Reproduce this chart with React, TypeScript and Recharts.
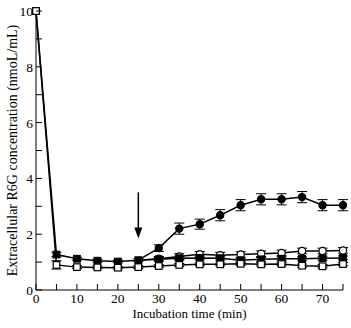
import React from "react";
import {
  LineChart,
  Line,
  XAxis,
  YAxis,
  ErrorBar,
  ReferenceLine,
  Label,
} from "recharts";

const times = [0, 5, 10, 15, 20, 25, 30, 35, 40, 45, 50, 55, 60, 65, 70, 75];

// open squares (control)
const openSq = [10, 0.9, 0.82, 0.81, 0.8, 0.82, 0.86, 0.9, 0.92, 0.92, 0.94, 0.92, 0.93, 0.87, 0.85, 0.93];
const openSqErr = [0, 0.15, 0.05, 0.05, 0.05, 0.05, 0.05, 0.05, 0.05, 0.05, 0.06, 0.06, 0.06, 0.06, 0.06, 0.06];

// filled squares
const fillSq = [10, 1.27, 1.12, 1.05, 1.02, 1.07, 1.1, 1.14, 1.15, 1.14, 1.07, 1.1, 1.12, 1.12, 1.14, 1.15];
const fillSqErr = [0, 0.08, 0.05, 0.05, 0.05, 0.05, 0.06, 0.07, 0.07, 0.07, 0.07, 0.07, 0.07, 0.07, 0.07, 0.07];

// filled circles (added at the arrow)
const fillCi = [null, null, null, null, null, 1.07, 1.5, 2.2, 2.36, 2.68, 3.04, 3.25, 3.25, 3.33, 3.04, 3.04];
const fillCiErr = [0, 0, 0, 0, 0, 0, 0.12, 0.2, 0.18, 0.2, 0.2, 0.2, 0.2, 0.2, 0.2, 0.2];

// open circles (added at the arrow)
const openCi = [null, null, null, null, null, 1.07, 1.12, 1.2, 1.28, 1.25, 1.27, 1.3, 1.33, 1.4, 1.4, 1.42];
const openCiErr = [0, 0, 0, 0, 0, 0, 0.08, 0.1, 0.1, 0.1, 0.1, 0.1, 0.1, 0.1, 0.1, 0.1];

const ARROW_T = 25;
const xTicks = [0, 5, 10, 15, 20, 25, 30, 35, 40, 45, 50, 55, 60, 65, 70, 75];
const yTicks = [0, 1, 2, 3, 4, 5, 6, 7, 8, 9, 10];

const data = times.map((t, i) => ({
  t,
  openSq: openSq[i],
  openSqErr: openSqErr[i],
  fillSq: fillSq[i],
  fillSqErr: fillSqErr[i],
  fillCi: fillCi[i],
  fillCiErr: fillCiErr[i],
  openCi: openCi[i],
  openCiErr: openCiErr[i],
}));

const FONT = "'Liberation Serif', 'Times New Roman', serif";

const XTick = (props: any) => {
  const { x, y, payload } = props;
  const major = payload.value % 10 === 0;
  return (
    <g>
      <line x1={x} y1={y} x2={x} y2={y - 6} stroke="#000" strokeWidth={1} />
      {major && (
        <text x={x} y={y + 13} textAnchor="middle" fontSize={13.5} fontFamily={FONT} fill="#000">
          {payload.value}
        </text>
      )}
    </g>
  );
};

const YTick = (props: any) => {
  const { x, y, payload } = props;
  const major = payload.value % 2 === 0;
  return (
    <g>
      <line x1={x} y1={y} x2={x + 6} y2={y} stroke="#000" strokeWidth={1} />
      {major && (
        <text x={x - 3} y={y + 5} textAnchor="end" fontSize={13.5} fontFamily={FONT} fill="#000">
          {payload.value}
        </text>
      )}
    </g>
  );
};

const squareDot = (filled: boolean) => (p: any) => {
  const { cx, cy, index } = p;
  if (cx == null || cy == null) return <g key={index} />;
  return (
    <rect
      key={index}
      x={cx - 3.3}
      y={cy - 3.3}
      width={6.6}
      height={6.6}
      fill={filled ? "#000" : "#fff"}
      stroke="#000"
      strokeWidth={1.2}
    />
  );
};

// circles start at the arrow point, where the filled square is shown
const circleDot = (filled: boolean) => (p: any) => {
  const { cx, cy, index, payload } = p;
  if (cx == null || cy == null || payload.t === ARROW_T) return <g key={index} />;
  return (
    <circle key={index} cx={cx} cy={cy} r={3.6} fill={filled ? "#000" : "#fff"} stroke="#000" strokeWidth={1.2} />
  );
};

const Arrow = (p: any) => {
  const { x1, y1, x2, y2 } = p;
  return (
    <g>
      <line x1={x1} y1={y1} x2={x2} y2={y2 - 8} stroke="#000" strokeWidth={1.5} />
      <polygon points={`${x2 - 4},${y2 - 11} ${x2 + 4},${y2 - 11} ${x2},${y2}`} fill="#000" />
    </g>
  );
};

export default function App() {
  return (
    <div style={{ position: "absolute", left: 0, top: 0, background: "#fff" }}>
      <LineChart
        width={351}
        height={328}
        data={data}
        margin={{ top: 11, right: 8, left: 10, bottom: 8 }}
      >
        <XAxis
          dataKey="t"
          type="number"
          domain={[0, 75]}
          ticks={xTicks}
          interval={0}
          tickSize={0}
          tickMargin={0}
          tickLine={false}
          tick={<XTick />}
          height={30}
          axisLine={{ stroke: "#000", strokeWidth: 1 }}
        >
          <Label
            value="Incubation time (min)"
            position="insideBottom"
            offset={2}
            style={{ fontFamily: FONT, fontSize: 13, fill: "#000" }}
          />
        </XAxis>
        <YAxis
          type="number"
          domain={[0, 10]}
          ticks={yTicks}
          interval={0}
          tickSize={0}
          tickMargin={0}
          tickLine={false}
          tick={<YTick />}
          width={26}
          axisLine={{ stroke: "#000", strokeWidth: 1 }}
        >
          <Label
            value="Extracellular R6G concentration (nmoL/mL)"
            angle={-90}
            position="insideLeft"
            offset={2}
            style={{ fontFamily: FONT, fontSize: 14, fill: "#000", textAnchor: "middle" }}
          />
        </YAxis>
        <ReferenceLine
          segment={[
            { x: ARROW_T, y: 3.5 },
            { x: ARROW_T, y: 1.85 },
          ]}
          shape={<Arrow />}
        />
        <Line
          dataKey="fillCi"
          stroke="#000"
          strokeWidth={1.5}
          dot={circleDot(true)}
          isAnimationActive={false}
        >
          <ErrorBar dataKey="fillCiErr" width={5} stroke="#000" strokeWidth={1} />
        </Line>
        <Line
          dataKey="openCi"
          stroke="#000"
          strokeWidth={1.5}
          dot={circleDot(false)}
          isAnimationActive={false}
        >
          <ErrorBar dataKey="openCiErr" width={5} stroke="#000" strokeWidth={1} />
        </Line>
        <Line
          dataKey="fillSq"
          stroke="#000"
          strokeWidth={1.5}
          dot={squareDot(true)}
          isAnimationActive={false}
        >
          <ErrorBar dataKey="fillSqErr" width={5} stroke="#000" strokeWidth={1} />
        </Line>
        <Line
          dataKey="openSq"
          stroke="#000"
          strokeWidth={1.5}
          dot={squareDot(false)}
          isAnimationActive={false}
        >
          <ErrorBar dataKey="openSqErr" width={5} stroke="#000" strokeWidth={1} />
        </Line>
      </LineChart>
    </div>
  );
}
